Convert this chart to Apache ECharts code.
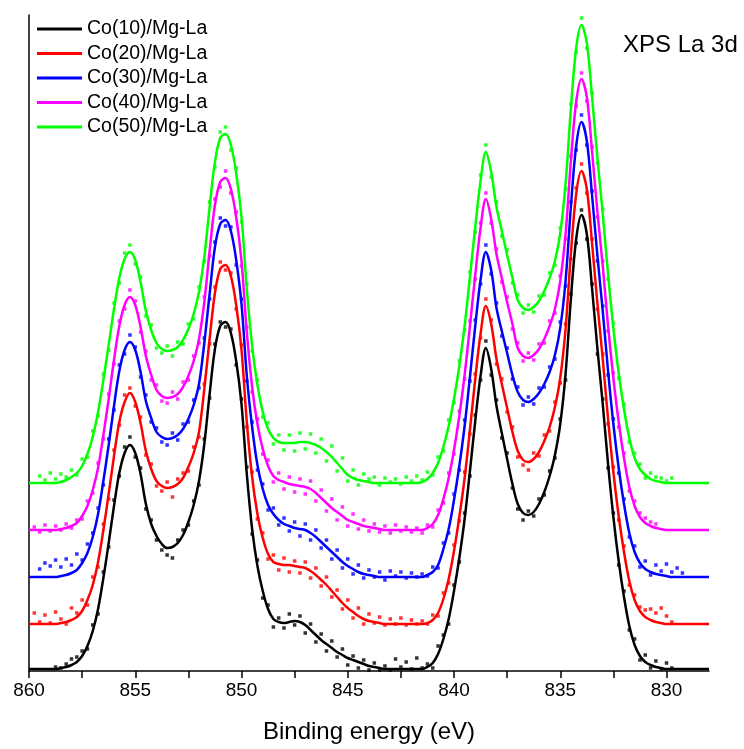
<!DOCTYPE html>
<html><head><meta charset="utf-8">
<script src="https://cdn.jsdelivr.net/npm/echarts@6/dist/echarts.min.js"></script>
<style>html,body{margin:0;padding:0;background:#fff}#c{width:744px;height:749px}</style>
</head><body><div id="c"></div>
<script>
const energy = [
860,859.75,859.5,859.25,859,858.75,858.5,858.25,858,857.75,
857.5,857.25,857,856.75,856.5,856.25,856,855.75,855.5,855.25,
855,854.75,854.5,854.25,854,853.75,853.5,853.25,853,852.75,
852.5,852.25,852,851.75,851.5,851.25,851,850.75,850.5,850.25,
850,849.75,849.5,849.25,849,848.75,848.5,848.25,848,847.75,
847.5,847.25,847,846.75,846.5,846.25,846,845.75,845.5,845.25,
845,844.75,844.5,844.25,844,843.75,843.5,843.25,843,842.75,
842.5,842.25,842,841.75,841.5,841.25,841,840.75,840.5,840.25,
840,839.75,839.5,839.25,839,838.75,838.5,838.25,838,837.75,
837.5,837.25,837,836.75,836.5,836.25,836,835.75,835.5,835.25,
835,834.75,834.5,834.25,834,833.75,833.5,833.25,833,832.75,
832.5,832.25,832,831.75,831.5,831.25,831,830.75,830.5,830.25,
830,829.75,829.5,829.25,829,828.75,828.5,828.25,828];

const sampleNames = ['Co(10)/Mg-La','Co(20)/Mg-La','Co(30)/Mg-La','Co(40)/Mg-La','Co(50)/Mg-La'];
const sampleColors = ['#000000','#ff0000','#0000ff','#ff00ff','#00ff00'];

// fitted envelopes
const fit10 = [
2,2,2,2,2,2,3,4,6,9,
15,25,40,62,93,128,165,198,218,226,
218,197,167,147,135,127,123,124,128,136,
149,166,190,227,277,322,345,349,338,310,
267,197,142,105,80,62,52,49,48,49,
50,49,46,41,36,31,27,23,19,16,
13,11,9,7,5,4,3,2,2,2,
2,2,2,2,2,4,8,17,32,52,
80,113,152,200,250,295,323,302,265,238,
212,187,167,158,156,159,167,179,195,216,
247,297,372,432,456,437,382,322,267,207,
154,110,74,45,26,15,9,6,4,3,
2,2,2,2,2,2,2,2,2];
const fit20 = [
47,47,47,47,47,47,48,49,51,54,
60,71,86,109,141,177,215,249,269,278,
269,248,220,202,190,185,183,184,187,193,
204,218,239,282,332,378,402,406,395,366,
321,249,194,157,133,117,109,107,106,106,
105,104,103,100,96,91,86,80,74,68,
63,59,55,52,50,49,48,47,47,47,
47,47,47,47,47,48,51,58,72,92,
120,154,193,241,292,337,365,347,312,287,
263,239,220,211,209,212,219,230,244,264,
293,342,417,477,500,482,427,367,312,252,
199,155,119,90,71,60,54,51,49,48,
47,47,47,47,47,47,47,47,47];
const fit30 = [
94,94,94,94,94,94,95,96,98,101,
108,118,134,157,190,226,265,300,321,329,
321,299,270,253,239,234,232,233,236,242,
252,266,287,328,377,424,447,451,440,411,
367,295,244,206,182,166,157,151,147,145,
143,142,141,138,134,129,124,119,114,109,
105,102,99,97,96,95,94,94,94,94,
94,94,94,94,94,96,99,106,122,142,
171,205,245,294,345,391,419,401,363,340,
318,296,279,271,269,272,278,287,299,316,
343,390,464,525,549,530,475,415,360,300,
247,203,167,138,119,108,102,99,97,96,
95,94,94,94,94,94,94,94,94];
const fit40 = [
141,141,141,141,141,141,142,143,145,148,
155,165,181,203,236,272,311,345,366,374,
366,344,315,296,281,275,273,274,277,284,
295,310,332,369,420,466,489,493,482,454,
410,339,284,247,222,205,195,191,189,187,
186,185,184,182,178,173,168,163,159,155,
151,149,147,145,144,143,142,141,141,141,
141,141,141,141,141,143,147,156,172,193,
221,255,296,345,396,443,472,452,417,393,
369,347,323,315,313,316,322,332,345,362,
390,437,510,569,592,574,519,459,405,345,
293,249,213,184,165,154,148,145,143,142,
141,141,141,141,141,141,141,141,141];
const fit50 = [
188,188,188,188,188,188,189,191,194,198,
205,217,234,259,291,326,362,393,412,419,
411,389,360,341,328,322,320,321,324,331,
342,357,379,414,464,509,533,537,526,498,
454,382,325,286,259,242,233,229,228,228,
228,229,229,228,226,223,219,214,208,202,
196,193,191,190,189,188,188,188,188,188,
188,188,188,188,189,192,198,208,224,245,
272,305,345,394,444,490,519,499,464,440,
416,393,371,363,361,364,370,380,393,410,
438,487,562,623,646,628,573,513,457,397,
343,298,262,233,213,202,196,192,190,189,
188,188,188,188,188,188,188,188,188];

// measured points
const raw10 = [
null,null,null,null,null,4,3,7,12,14,
20,22,46,57,99,124,171,195,224,234,
214,203,162,151,131,121,116,113,131,141,
146,170,186,232,273,327,349,344,342,306,
272,204,137,111,73,66,44,53,43,57,
46,55,38,47,29,37,20,30,14,22,
6,15,3,11,1,8,1,5,1,12,
4,9,2,13,3,7,3,25,36,47,
86,109,158,195,256,291,330,296,271,233,
218,183,162,151,160,155,172,176,200,213,
252,291,377,428,461,432,387,317,272,203,
158,106,80,41,32,11,16,3,10,2,
8,3,null,null,null,null,null,null,null];
const raw20 = [
null,58,49,56,48,59,52,47,63,58,
71,66,94,104,147,172,221,246,276,283,
265,254,216,207,185,180,189,174,192,198,
200,224,234,287,327,384,409,401,398,362,
326,244,199,152,138,112,116,101,113,99,
110,98,109,93,103,85,94,74,81,62,
71,53,63,47,57,48,54,46,52,47,
53,46,51,47,50,47,56,55,78,88,
126,150,199,237,297,333,372,351,307,292,
259,244,214,206,201,218,215,236,240,269,
288,347,412,483,507,478,432,362,317,247,
204,151,125,86,76,64,61,62,58,63,
55,49,null,null,null,null,null,null,null];
const raw30 = [
null,null,102,108,105,111,104,112,106,117,
111,127,138,163,186,232,261,306,317,336,
324,294,276,249,243,229,226,238,231,247,
249,271,283,333,372,429,453,445,444,406,
372,290,249,201,187,161,163,146,153,140,
149,135,147,131,141,123,131,112,121,103,
112,97,106,93,101,94,99,91,100,95,
99,93,98,94,97,95,104,103,128,138,
177,201,251,290,351,387,426,397,368,335,
323,292,284,266,274,267,283,284,304,312,
349,385,469,521,556,526,480,410,365,296,
252,198,172,134,125,104,110,96,106,100,
107,99,103,98,null,null,null,null,null];
const raw40 = [
null,144,139,146,140,145,141,147,143,151,
152,170,178,208,232,277,307,350,362,381,
370,339,320,291,286,270,268,279,272,289,
291,315,328,374,415,472,484,500,478,459,
405,344,279,252,217,211,189,198,182,194,
179,192,177,190,170,181,160,172,151,164,
145,157,142,151,140,147,139,145,138,146,
140,144,139,143,138,146,144,161,168,198,
217,260,292,350,392,448,478,448,422,389,
374,342,328,310,318,311,327,328,350,358,
395,432,515,565,598,570,524,454,410,340,
298,244,218,180,170,158,153,149,147,null,
null,null,null,null,null,null,null,null,null];
const raw50 = [
null,null,195,191,198,192,197,194,201,196,
212,214,240,255,297,321,368,388,418,426,
407,394,355,346,323,318,325,315,329,327,
347,352,384,410,469,504,539,544,521,503,
449,387,320,291,254,248,227,236,221,236,
220,238,222,237,218,232,210,225,200,213,
190,201,186,197,192,194,186,193,189,192,
187,194,190,195,191,199,196,214,220,251,
268,310,341,399,439,496,526,494,469,435,
421,388,376,358,366,359,375,376,398,406,
443,482,567,619,653,623,578,508,462,392,
348,293,267,229,218,207,193,198,194,193,
190,193,null,null,null,null,null,null,null];

const xMajorTicks = [860,855,850,845,840,835,830];
const xAllTicks = [860,857.5,855,852.5,850,847.5,845,842.5,840,837.5,835,832.5,830];

const fits = [fit10, fit20, fit30, fit40, fit50];
const raws = [raw10, raw20, raw30, raw40, raw50];
const FONT = "'Liberation Sans', Arial, sans-serif";

const series = [];
raws.forEach((r, k) => {
  series.push({
    name: sampleNames[k] + ' data', type: 'scatter', symbol: 'rect', symbolSize: 3.5,
    itemStyle: {color: sampleColors[k]}, z: 2, silent: true,
    data: energy.map((x, i) => r[i] == null ? null : [x, r[i]]).filter(d => d)
  });
});
fits.forEach((f, k) => {
  series.push({
    name: sampleNames[k], type: 'line', symbol: 'none', smooth: 0.35,
    lineStyle: {color: sampleColors[k], width: 2.5}, itemStyle: {color: sampleColors[k]}, z: 3,
    data: energy.map((x, i) => [x, f[i]])
  });
});

const chart = echarts.init(document.getElementById('c'), null, {renderer: 'canvas'});
chart.setOption({
  animation: false,
  backgroundColor: '#ffffff',
  grid: {left: 29, right: 35, top: 15, bottom: 78, containLabel: false},
  xAxis: {
    type: 'value', min: 828, max: 860, inverse: true, position: 'bottom',
    axisLine: {show: true, onZero: false, lineStyle: {color: '#000', width: 1.5}},
    axisTick: {show: true, length: 7, customValues: xAllTicks, lineStyle: {color: '#000', width: 1.5}},
    axisLabel: {show: true, customValues: xMajorTicks, color: '#000', fontSize: 19, fontFamily: FONT, margin: 10},
    splitLine: {show: false},
    name: 'Binding energy (eV)', nameLocation: 'middle', nameGap: 49,
    nameTextStyle: {fontSize: 24, fontFamily: FONT, color: '#000'}
  },
  yAxis: {
    type: 'value', min: 0, max: 656,
    axisLine: {show: true, onZero: false, lineStyle: {color: '#000', width: 1.5}},
    axisTick: {show: false}, axisLabel: {show: false}, splitLine: {show: false}
  },
  legend: {
    data: sampleNames, orient: 'vertical', left: 37, top: 19, padding: 0,
    icon: 'rect', itemWidth: 45, itemHeight: 3, itemGap: 4.5,
    textStyle: {fontSize: 19.5, fontFamily: FONT, color: '#000'}
  },
  graphic: [{
    type: 'text', left: 623, top: 33,
    style: {text: 'XPS La 3d', fontSize: 24, fontFamily: FONT, fill: '#000'}
  }],
  series: series
});
</script>
</body></html>
